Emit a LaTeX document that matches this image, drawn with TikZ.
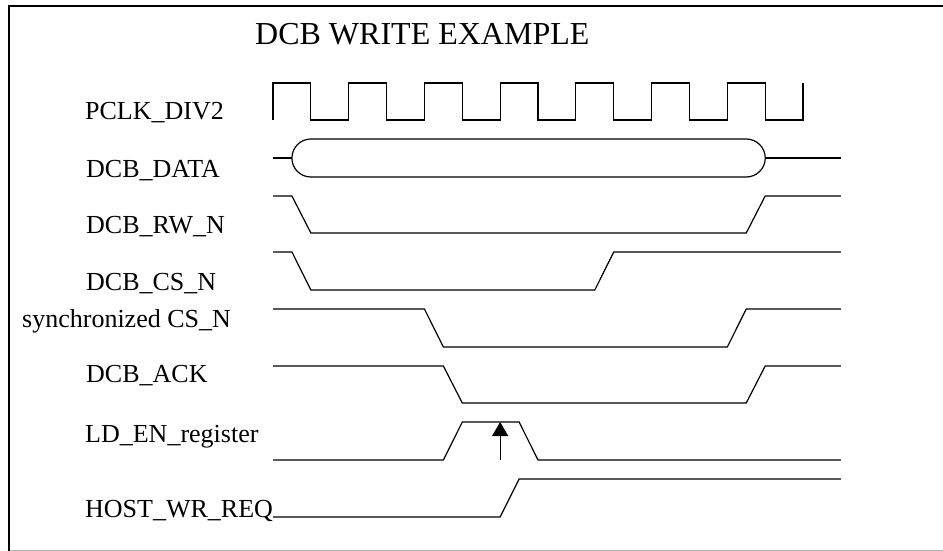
\documentclass[tikz,border=0pt]{standalone}
\usepackage{fontspec}
\setmainfont{Liberation Serif}
\usetikzlibrary{arrows.meta}

\tikzset{
	sig/.style={line width=1.2pt, line join=miter},
	lbl/.style={anchor=base west, inner sep=0pt, font=\fontsize{26}{30}\selectfont},
}

\begin{document}
\begin{tikzpicture}[x=1pt, y=-1pt]
	\useasboundingbox (0,0) rectangle (943,551);
	\draw[line width=2.5pt] (9,551) -- (9,6) -- (943,6);
	\draw[black!30, line width=1pt] (10,550) -- (943,550);

	\node[lbl, font=\fontsize{32}{36}\selectfont] (title) at (255,45) {DCB WRITE EXAMPLE};
	\node[lbl] (pclk) at (85,120) {PCLK\_DIV2};
	\node[lbl] (data) at (86,177) {DCB\_DATA};
	\node[lbl] (rwn) at (86,233) {DCB\_RW\_N};
	\node[lbl] (csn) at (86,290) {DCB\_CS\_N};
	\node[lbl] (sync) at (22,327) {synchronized CS\_N};
	\node[lbl] (ack) at (86,382) {DCB\_ACK};
	\node[lbl] (lden) at (85,442) {LD\_EN\_register};
	\node[lbl] (host) at (85,517) {HOST\_WR\_REQ};

	\begin{scope}[xshift=273pt, x=18.93pt]
		\draw[sig] (0,120) foreach \k in {0,4,...,24} { -- (\k,83) -- (\k+2,83) -- (\k+2,120) -- (\k+4,120) } -- (28,83);
		\draw[sig] (0,158) -- (1,158);
		\draw[sig] (1,158) arc[start angle=180, end angle=90, radius=19pt] -- (25,139)
			arc[start angle=90, end angle=-90, radius=19pt] -- (2,177)
			arc[start angle=270, end angle=180, radius=19pt] -- cycle;
		\draw[sig] (26,158) -- (30,158);
		\draw[sig] (0,196) -- (1,196) -- (2,233) -- (25,233) -- (26,196) -- (30,196);
		\draw[sig] (0,252) -- (1,252) -- (2,290) -- (17,290) -- (18,252) -- (30,252);
		\draw[sig] (0,309) -- (8,309) -- (9,347) -- (24,347) -- (25,309) -- (30,309);
		\draw[sig] (0,366) -- (9,366) -- (10,403) -- (25,403) -- (26,366) -- (30,366);
		\draw[sig] (0,460) -- (9,460) -- (10,422) -- (13,422) -- (14,460) -- (30,460);
		\draw[sig] (0,517) -- (12,517) -- (13,479) -- (30,479);
		\coordinate (ldfoot) at (12,460);
		\coordinate (ldtop) at (12,422);
		\draw[-{Triangle[length=14pt, width=16pt]}, line width=1.2pt] (ldfoot) -- (ldtop);
	\end{scope}
\end{tikzpicture}
\end{document}
